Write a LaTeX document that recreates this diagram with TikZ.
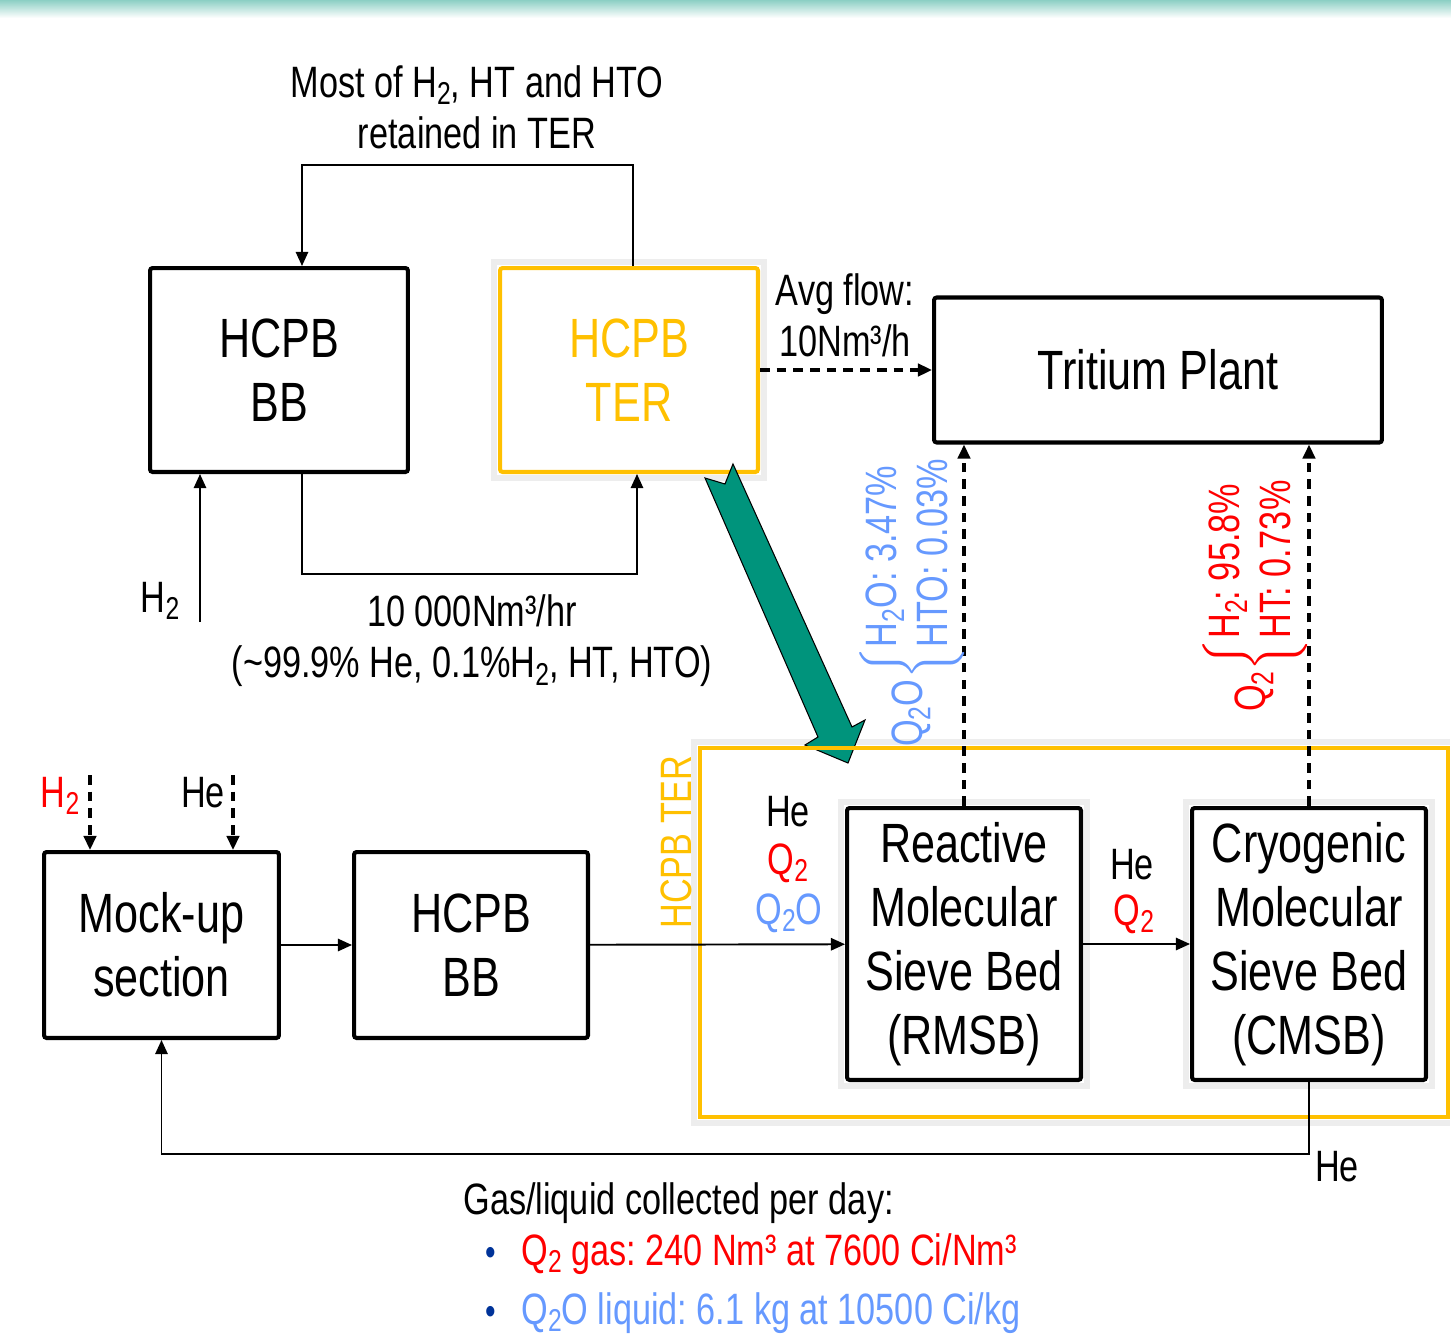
\documentclass[tikz,border=0pt]{standalone}
\usepackage{fontspec}
\setmainfont{Liberation Sans}[FakeStretch=0.78]
\usepackage{tikz}
\usetikzlibrary{arrows.meta, positioning, backgrounds}
\usepackage{amsmath}
\definecolor{tergold}{RGB}{255,192,0}
\definecolor{tealarrow}{RGB}{0,148,124}
\definecolor{qtwored}{RGB}{255,0,0}
\definecolor{qtwoblue}{RGB}{102,153,255}
\definecolor{bulletblue}{RGB}{0,51,153}
\newcommand{\lowidx}[1]{\raisebox{-0.17em}{\scalebox{0.72}{#1}}}
\frenchspacing

\begin{document}
\begin{tikzpicture}[
    x=0.02cm, y=-0.02cm,
    unit/.style={rectangle, draw, line width=2.3pt, rounded corners=1.5pt, align=center, font=\fontsize{31.5}{36.5}\selectfont},
    glow/.style={black!7, line width=3.5pt},
    lbl/.style={inner sep=0pt, align=center, font=\fontsize{25}{29}\selectfont},
    flow/.style={-{Triangle[length=8pt, width=7pt]}, line width=1.1pt},
    dflow/.style={-{Triangle[length=8pt, width=7pt]}, line width=2pt, dash pattern=on 5.5pt off 4pt}
]
    \useasboundingbox (0,0) rectangle (1451,1342);
    % Top band
    \shade[top color=tealarrow!45, bottom color=white] (0,0) rectangle (1451,18);

    % Upper loop
    \node[unit, minimum width=5.16cm, minimum height=4.08cm] (bbtop) at (279,370) {HCPB\\BB};
    \node[unit, draw=tergold, text=tergold, minimum width=5.16cm, minimum height=4.08cm] (ter) at (629,370) {HCPB\\TER};
    \node[unit, minimum width=8.96cm, minimum height=2.9cm] (tp) at (1158,370) {Tritium Plant};
    \coordinate (loop) at (470,165);
    \coordinate (low) at (470,574);
    \draw[flow] ([xshift=0.08cm]ter.north) |- (loop) -| ([xshift=0.46cm]bbtop.north);
    \draw[flow] ([xshift=0.46cm]bbtop.south) |- (low) -| ([xshift=0.16cm]ter.south);
    \coordinate (htwoin) at (200,622);
    \draw[flow] (htwoin) -- (htwoin |- bbtop.south);
    \node[lbl] (htwolbl) at (160,601) {H\lowidx{2}};
    \node[lbl] (retained) at (477,107) {Most of H\lowidx{2}, HT and HTO\\retained in TER};
    \node[lbl] (mainflow) at (472,641) {10 000Nm³/hr\\(\textasciitilde99.9\% He, 0.1\%H\lowidx{2}, HT, HTO)};
    \draw[dflow] (ter.east) -- (tp.west);
    \node[lbl] (avgflow) at (845,315) {Avg flow:\\10Nm³/h};

    % Transfer to the lower loop
    \filldraw[fill=tealarrow, draw=black, line width=0.6pt]
        (705,478) -- (818,737) -- (805,745) -- (848,763) -- (865,720)
        -- (852,727) -- (733,464) -- (725,484) -- cycle;

    % TER frame
    \node[rectangle, draw=tergold, line width=2.3pt, minimum width=14.96cm, minimum height=7.38cm] (terframe) at (1074,932.5) {};
    \node[lbl, rotate=90, text=tergold] (terlbl) at (676,842) {HCPB TER};

    % Lower loop
    \node[unit, minimum width=4.7cm, minimum height=3.72cm] (mock) at (161.5,945) {Mock-up\\section};
    \node[unit, minimum width=4.68cm, minimum height=3.72cm] (bbbot) at (471,945) {HCPB\\BB};
    \node[unit, minimum width=4.68cm, minimum height=5.44cm] (rmsb) at (964,944) {Reactive\\Molecular\\Sieve Bed\\(RMSB)};
    \node[unit, minimum width=4.68cm, minimum height=5.44cm] (cmsb) at (1309,944) {Cryogenic\\Molecular\\Sieve Bed\\(CMSB)};
    \draw[flow] (mock) -- (bbbot);
    \draw[flow] (bbbot) -- (rmsb);
    \draw[flow] (rmsb) -- (cmsb);
    \coordinate (ret) at (700,1154);
    \draw[flow] (cmsb.south) |- (ret) -| (mock.south);
    \node[lbl] (helbl) at (1337,1167) {He};

    % Soft shadows
    \begin{scope}[on background layer]
        \draw[glow] ([shift={(-2.5pt,-2.5pt)}]ter.south west) rectangle ([shift={(2.5pt,2.5pt)}]ter.north east);
        \draw[glow] ([shift={(-2.5pt,-2.5pt)}]rmsb.south west) rectangle ([shift={(2.5pt,2.5pt)}]rmsb.north east);
        \draw[glow] ([shift={(-2.5pt,-2.5pt)}]cmsb.south west) rectangle ([shift={(2.5pt,2.5pt)}]cmsb.north east);
        \draw[glow] ([shift={(0pt,-2.5pt)}]terframe.south east) -| ([shift={(-2.5pt,2.5pt)}]terframe.north west)
            -- ([shift={(0pt,2.5pt)}]terframe.north east);
    \end{scope}

    % Feeds to the mock-up
    \coordinate (htwosrc) at (90,775);
    \coordinate (hesrc) at (233,775);
    \draw[dflow] (htwosrc) -- (htwosrc |- mock.north);
    \draw[dflow] (hesrc) -- (hesrc |- mock.north);
    \node[lbl, text=qtwored] (htwofeed) at (60,796) {H\lowidx{2}};
    \node[lbl] (hefeed) at (203,793) {He};

    % Stream labels
    \node[lbl] (rmsbhe) at (788,812) {He};
    \node[lbl, text=qtwored] (rmsbq) at (788,863) {Q\lowidx{2}};
    \node[lbl, text=qtwoblue] (rmsbqo) at (789,913) {Q\lowidx{2}O};
    \node[lbl] (cmsbhe) at (1132,865) {He};
    \node[lbl, text=qtwored] (cmsbq) at (1134,914) {Q\lowidx{2}};

    % Outputs to the Tritium Plant
    \draw[dflow] (rmsb.north) -- (rmsb.north |- tp.south);
    \draw[dflow] (cmsb.north) -- (cmsb.north |- tp.south);
    \node[lbl, rotate=90, text=qtwoblue] (qolbl) at (912,602)
        {Q\lowidx{2}O$\left\{\begin{tabular}{@{}l@{}}H\lowidx{2}O: 3.47\%\\HTO: 0.03\%\end{tabular}\right.$};
    \node[lbl, rotate=90, text=qtwored] (qlbl) at (1255,595)
        {Q\lowidx{2}$\left\{\begin{tabular}{@{}l@{}}H\lowidx{2}: 95.8\%\\HT: 0.73\%\end{tabular}\right.$};

    % Daily collection
    \node[lbl, anchor=west] (daily) at (463,1203) {Gas/liquid collected per day:};
    \node[lbl, text=bulletblue, font=\fontsize{22}{24}\selectfont] (bulgas) at (491,1256) {•};
    \node[lbl, anchor=west, text=qtwored] (gas) at (521,1254) {Q\lowidx{2} gas: 240 Nm³ at 7600 Ci/Nm³};
    \node[lbl, text=bulletblue, font=\fontsize{22}{24}\selectfont] (bulliq) at (491,1315) {•};
    \node[lbl, anchor=west, text=qtwoblue] (liq) at (521,1313) {Q\lowidx{2}O liquid: 6.1 kg at 10500 Ci/kg};
\end{tikzpicture}
\end{document}
